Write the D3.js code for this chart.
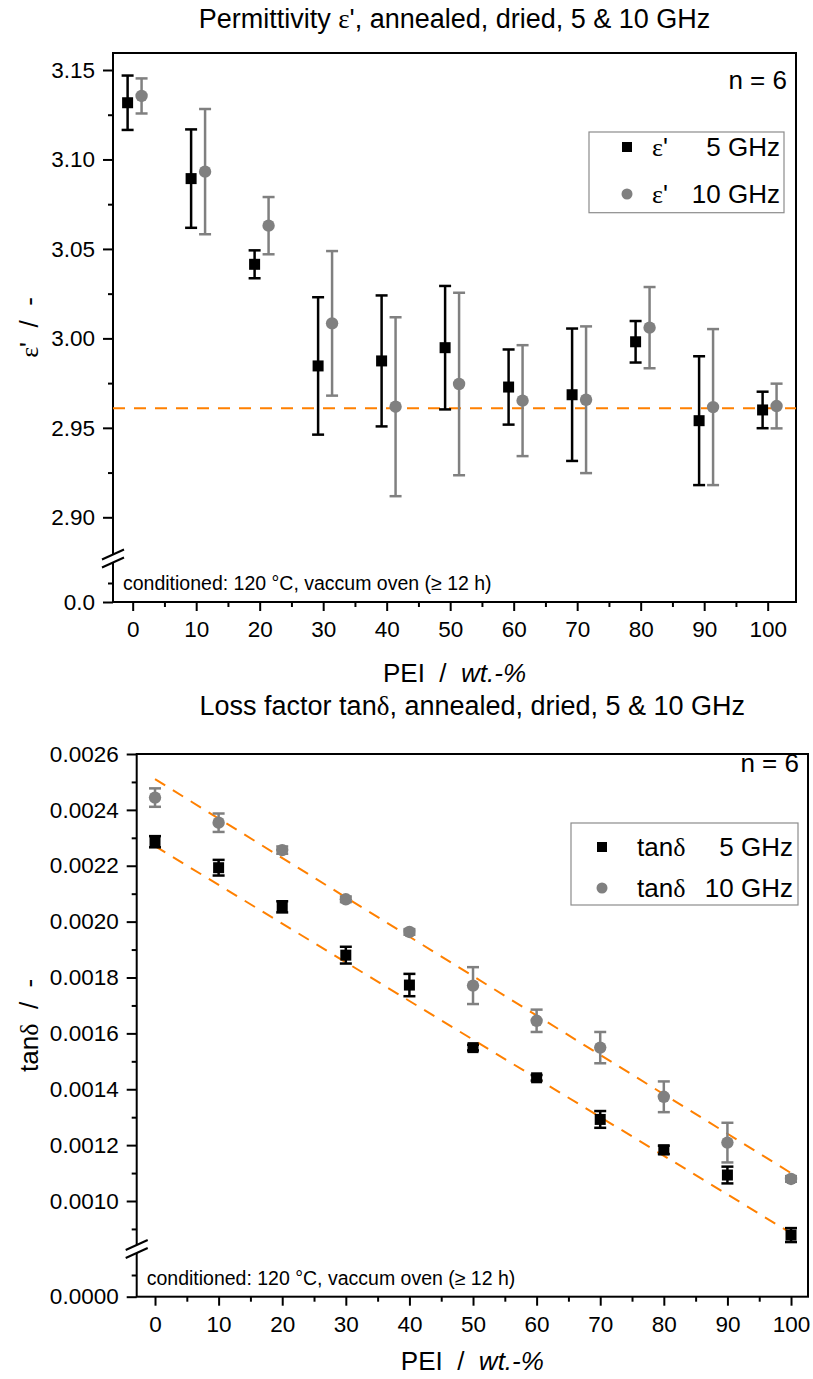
<!DOCTYPE html>
<html>
<head>
<meta charset="utf-8"/>
<script src="https://cdn.jsdelivr.net/npm/d3@7/dist/d3.min.js"></script>
<style>
body{margin:0;background:#fff;}
svg text{font-family:"Liberation Sans",Arial,sans-serif;fill:#000;white-space:pre;}
.serif{font-family:"Liberation Serif","Times New Roman",serif;}
</style>
</head>
<body>
<script>
// PEI content, wt.-%
var pei=[0,10,20,30,40,50,60,70,80,90,100];
var xTicks=[0,10,20,30,40,50,60,70,80,90,100];
var xMinor=[5,15,25,35,45,55,65,75,85,95];

// permittivity eps'
var eps5=[3.1317,3.0893,3.0414,2.9846,2.9874,2.9948,2.9728,2.9685,2.9981,2.9540,2.9600];
var eps5Err=[0.0152,0.0275,0.0078,0.0384,0.0366,0.0345,0.0210,0.0370,0.0116,0.0360,0.0102];
var eps10=[3.1355,3.0932,3.0630,3.0084,2.9618,2.9745,2.9652,2.9657,3.0060,2.9616,2.9622];
var eps10Err=[0.0098,0.0350,0.0160,0.0404,0.0500,0.0510,0.0310,0.0410,0.0227,0.0436,0.0125];
var epsRef=2.961;
var epsTicks=[2.90,2.95,3.00,3.05,3.10,3.15];
var epsMinor=[2.925,2.975,3.025,3.075,3.125];

// loss factor tan delta
var tan5=[0.002286,0.002193,0.002053,0.001880,0.001773,0.001549,0.001441,0.001292,0.001183,0.001093,0.000878];
var tan5Err=[0.000020,0.000028,0.000020,0.000030,0.000040,0.000010,0.000010,0.000030,0.000015,0.000030,0.000025];
var tan10=[0.002444,0.002354,0.002256,0.002080,0.001963,0.001771,0.001645,0.001549,0.001373,0.001209,0.001079];
var tan10Err=[0.000033,0.000033,0.000013,0.000010,0.000010,0.000066,0.000040,0.000056,0.000055,0.000071,0.000010];
var fit5=[[0,0.00227],[100,0.000885]];
var fit10=[[0,0.00251],[100,0.00110]];
var tanTicks=[0.0010,0.0012,0.0014,0.0016,0.0018,0.0020,0.0022,0.0024,0.0026];
var tanMinor=[0.0009,0.0011,0.0013,0.0015,0.0017,0.0019,0.0021,0.0023,0.0025];

var GREY="#808080", ORANGE="#ff8000";

var svg=d3.select("body").append("svg").attr("width",813).attr("height",1379);

function styleAxis(a,size){
  a.select(".domain").remove();
  a.selectAll("line").attr("stroke","#000").attr("stroke-width",2);
  a.selectAll("text").attr("font-size",size).attr("font-family",null).attr("fill","#000");
}

function addParts(t,parts){
  // parts: [sans, serif, sans, serif ...]
  parts.forEach(function(s,i){
    if(!s) return;
    var ts=t.append("tspan").text(s);
    if(i%2==1) ts.attr("class","serif");
  });
}

function drawPanel(p){
  var g=svg.append("g");
  var x=d3.scaleLinear().domain(p.xDomain).range([p.left,p.right]);
  var yUp=d3.scaleLinear().domain(p.upDomain).range(p.upRange);
  var yLow=d3.scaleLinear().domain(p.lowDomain).range(p.lowRange);
  var y=function(v){return v>p.cut?yUp(v):yLow(v);};

  // y axis, upper segment
  g.append("g").attr("transform","translate("+p.left+",0)")
    .call(d3.axisLeft(yUp).tickValues(p.yTicks).tickSize(10).tickPadding(8).tickFormat(p.fmt))
    .call(styleAxis,22.5);
  g.append("g").attr("transform","translate("+p.left+",0)")
    .call(d3.axisLeft(yUp).tickValues(p.yMinor).tickSize(5).tickFormat(""))
    .call(styleAxis,22.5);
  // lower segment below the break
  g.append("g").attr("transform","translate("+p.left+",0)")
    .call(d3.axisLeft(yLow).tickValues([0]).tickSize(10).tickPadding(8).tickFormat(function(){return p.zeroLabel;}))
    .call(styleAxis,22.5);
  g.append("g").attr("transform","translate("+p.left+",0)")
    .call(d3.axisLeft(yLow).tickValues([p.lowDomain[1]]).tickSize(5).tickFormat(""))
    .call(styleAxis,22.5);

  // x axis
  g.append("g").attr("transform","translate(0,"+p.bottom+")")
    .call(d3.axisBottom(x).tickValues(xTicks).tickSize(9).tickPadding(10))
    .call(styleAxis,22.5);
  g.append("g").attr("transform","translate(0,"+p.bottom+")")
    .call(d3.axisBottom(x).tickValues(xMinor).tickSize(5).tickFormat(""))
    .call(styleAxis,22.5);

  // frame
  g.append("rect").attr("x",p.left).attr("y",p.top)
    .attr("width",p.right-p.left).attr("height",p.bottom-p.top)
    .attr("fill","none").attr("stroke","#000").attr("stroke-width",2);

  // axis break
  g.append("rect").attr("x",p.left-3).attr("y",p.breakY-4).attr("width",6).attr("height",8).attr("fill","#fff");
  [-4,4].forEach(function(o){
    g.append("line").attr("x1",p.left-11).attr("y1",p.breakY+o+5)
      .attr("x2",p.left+11).attr("y2",p.breakY+o-5)
      .attr("stroke","#000").attr("stroke-width",2);
  });

  // reference / fit lines
  p.lines.forEach(function(l){
    g.append("line").attr("x1",x(l[0][0])).attr("y1",y(l[0][1]))
      .attr("x2",x(l[1][0])).attr("y2",y(l[1][1]))
      .attr("stroke",ORANGE).attr("stroke-width",2).attr("stroke-dasharray","12,9");
  });

  // series
  p.series.forEach(function(s){
    var pts=pei.map(function(d,i){return {x:x(d+s.dx),v:s.values[i],e:s.errs[i]};});
    var eb=g.append("g").attr("stroke",s.color).attr("stroke-width",2.5);
    pts.forEach(function(d){
      var y1=y(d.v+d.e), y2=y(d.v-d.e);
      eb.append("line").attr("x1",d.x).attr("x2",d.x).attr("y1",y1).attr("y2",y2);
      eb.append("line").attr("x1",d.x-6).attr("x2",d.x+6).attr("y1",y1).attr("y2",y1);
      eb.append("line").attr("x1",d.x-6).attr("x2",d.x+6).attr("y1",y2).attr("y2",y2);
    });
    if(s.shape=="square"){
      g.selectAll(null).data(pts).enter().append("rect")
        .attr("x",function(d){return d.x-5.5;}).attr("y",function(d){return y(d.v)-5.5;})
        .attr("width",11).attr("height",11).attr("fill",s.color);
    }else{
      g.selectAll(null).data(pts).enter().append("circle")
        .attr("cx",function(d){return d.x;}).attr("cy",function(d){return y(d.v);})
        .attr("r",6.2).attr("fill",s.color);
    }
  });

  // texts
  var cx=(p.left+p.right)/2;
  var t=g.append("text").attr("x",cx).attr("y",p.titleY).attr("text-anchor","middle").attr("font-size",27);
  addParts(t,p.title);

  g.append("text").attr("x",p.right-9).attr("y",p.nY).attr("text-anchor","end")
    .attr("font-size",26).text("n = 6");

  g.append("text").attr("x",p.left+10).attr("y",p.bottom-12).attr("font-size",19.5)
    .text("conditioned: 120 \u00B0C, vaccum oven (\u2265 12 h)");

  var xt=g.append("text").attr("x",cx).attr("y",p.xTitleY).attr("text-anchor","middle").attr("font-size",26);
  xt.append("tspan").text("PEI  /  ");
  xt.append("tspan").attr("font-style","italic").text("wt.-%");

  var yt=g.append("text").attr("transform","translate(38,"+((p.top+p.bottom)/2)+") rotate(-90)")
    .attr("text-anchor","middle").attr("font-size",26);
  addParts(yt,p.yTitle);

  // legend
  var L=p.legend;
  g.append("rect").attr("x",L.x).attr("y",L.y).attr("width",L.w).attr("height",L.h)
    .attr("fill","#fff").attr("stroke","#8c8c8c").attr("stroke-width",1.2);
  p.series.forEach(function(s,i){
    var cy=L.rows[i];
    if(s.shape=="square"){
      g.append("rect").attr("x",L.mx-5).attr("y",cy-5).attr("width",10).attr("height",10).attr("fill",s.color);
    }else{
      g.append("circle").attr("cx",L.mx).attr("cy",cy).attr("r",5.5).attr("fill",s.color);
    }
    var lt=g.append("text").attr("x",L.tx).attr("y",cy+9).attr("font-size",26);
    addParts(lt,s.label);
    g.append("text").attr("x",L.rx).attr("y",cy+9).attr("text-anchor","end").attr("font-size",26).text(s.freq);
  });
}

drawPanel({
  left:113,right:796,top:53,bottom:602,
  titleY:28,nY:89,xTitleY:682,
  xDomain:[-3.1,104.46],
  upDomain:[2.90,3.15],upRange:[517.3,70],
  lowDomain:[0,0.025],lowRange:[602,583],
  cut:1,breakY:558.5,
  yTicks:epsTicks,yMinor:epsMinor,fmt:d3.format(".2f"),zeroLabel:"0.0",
  lines:[[[-3.1,epsRef],[104.46,epsRef]]],
  series:[
    {values:eps5,errs:eps5Err,color:"#000",shape:"square",dx:-0.8,label:["","\u03B5","'"],freq:"5 GHz"},
    {values:eps10,errs:eps10Err,color:GREY,shape:"circle",dx:1.4,label:["","\u03B5","'"],freq:"10 GHz"}
  ],
  title:["Permittivity ","\u03B5","', annealed, dried, 5 & 10 GHz"],
  yTitle:["","\u03B5","'  /  -"],
  legend:{x:589,y:132,w:195,h:80.7,mx:627,tx:652,rx:780,rows:[147,194]}
});

drawPanel({
  left:136.7,right:808,top:754,bottom:1296.7,
  titleY:715,nY:772,xTitleY:1370,
  xDomain:[-2.88,102.67],
  upDomain:[0.0010,0.0026],upRange:[1201,754],
  lowDomain:[0,0.0001],lowRange:[1296.7,1275],
  cut:0.0005,breakY:1249,
  yTicks:tanTicks,yMinor:tanMinor,fmt:d3.format(".4f"),zeroLabel:"0.0000",
  lines:[fit5,fit10],
  series:[
    {values:tan5,errs:tan5Err,color:"#000",shape:"square",dx:0,label:["tan","\u03B4"],freq:"5 GHz"},
    {values:tan10,errs:tan10Err,color:GREY,shape:"circle",dx:0,label:["tan","\u03B4"],freq:"10 GHz"}
  ],
  title:["Loss factor tan","\u03B4",", annealed, dried, 5 & 10 GHz"],
  yTitle:["tan","\u03B4","  /  -"],
  legend:{x:571,y:823,w:227,h:82,mx:602,tx:637,rx:793,rows:[847,888]}
});
</script>
</body>
</html>
